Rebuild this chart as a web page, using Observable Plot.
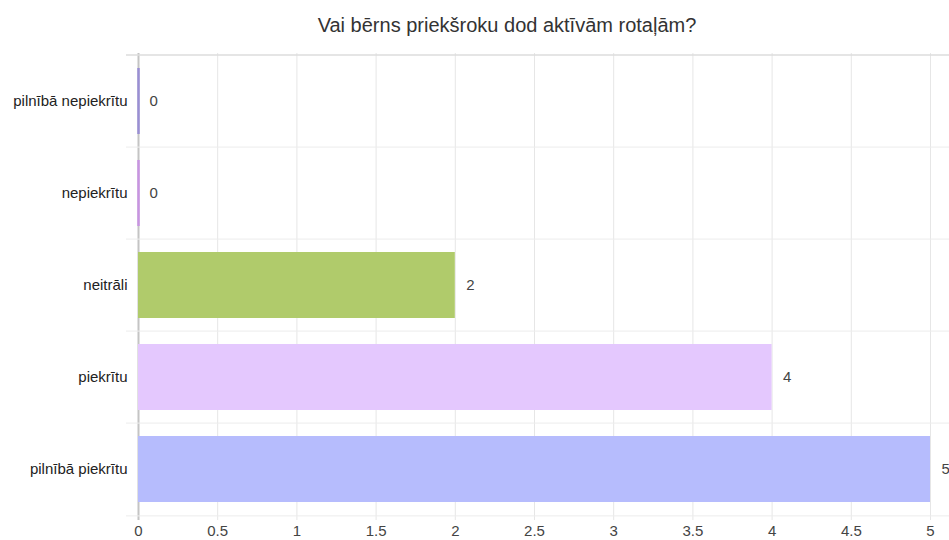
<!DOCTYPE html>
<html><head><meta charset="utf-8">
<script src="https://cdn.jsdelivr.net/npm/d3@7"></script>
<script src="https://cdn.jsdelivr.net/npm/@observablehq/plot@0.6"></script>
<style>
body{margin:0;background:#fff;font-family:"Liberation Sans",Arial,sans-serif;}
#title{width:949px;height:45px;box-sizing:border-box;padding-top:14px;padding-left:65px;text-align:center;font-size:20px;line-height:22px;color:#333;overflow:visible;}
</style></head><body>
<div id="title">Vai bērns priekšroku dod aktīvām rotaļām?</div>
<div id="chart"></div>
<script>
const categories = ["pilnībā nepiekrītu", "nepiekrītu", "neitrāli", "piekrītu", "pilnībā piekrītu"];
const values = [0, 0, 2, 4, 5];
const colors = ["#9a8fd4", "#c894e2", "#b0cb6b", "#e4c8fe", "#b6bcfd"];
const xTicks = [0, 0.5, 1, 1.5, 2, 2.5, 3, 3.5, 4, 4.5, 5];

const data = categories.map((c, i) => ({cat: c, value: values[i], color: colors[i]}));
const H = 495, mt = 8, mb = 23;
const step = (H - mt - mb) / categories.length;

const chart = Plot.plot({
  width: 949,
  height: H,
  marginLeft: 138,
  marginRight: 19,
  marginTop: mt,
  marginBottom: mb,
  style: {fontFamily: '"Liberation Sans", Arial, sans-serif', fontSize: "15px", color: "#444", background: "#fff", overflow: "visible"},
  x: {domain: [0, 5]},
  y: {domain: categories, paddingInner: 0.285, paddingOuter: 0.1425},
  marks: [
    Plot.ruleX(xTicks, {x: d => d, stroke: d => d === 0 ? "#c4c4c4" : "#e6e6e6", strokeWidth: d => d === 0 ? 2 : 1, insetBottom: -3}),
    Plot.ruleY(categories, {y: d => d, dy: -step / 2, stroke: (d, i) => i === 0 ? "#dcdcdc" : "#ececec", strokeWidth: (d, i) => i === 0 ? 1.5 : 1, insetLeft: -12, insetRight: -19}),
    Plot.ruleY(categories.slice(-1), {y: d => d, dy: step / 2, stroke: "#ececec", insetLeft: -12, insetRight: -19}),
    Plot.barX(data, {y: "cat", x1: 0, x2: "value", fill: d => d.color}),
    Plot.tickX(data.filter(d => d.value === 0), {y: "cat", x: "value", stroke: d => d.color, strokeWidth: 2.5}),
    Plot.text(data, {y: "cat", x: "value", text: d => String(d.value), dx: 11, textAnchor: "start", fill: "#444", fontSize: 15}),
    Plot.axisY({tickSize: 0, tickPadding: 11, label: null, fill: "#222", fontSize: 15}),
    Plot.axisX({ticks: xTicks, tickSize: 0, tickPadding: 8, label: null, fill: "#444", fontSize: 15, tickFormat: d => String(d)})
  ]
});
document.getElementById("chart").appendChild(chart);
</script>
</body></html>
